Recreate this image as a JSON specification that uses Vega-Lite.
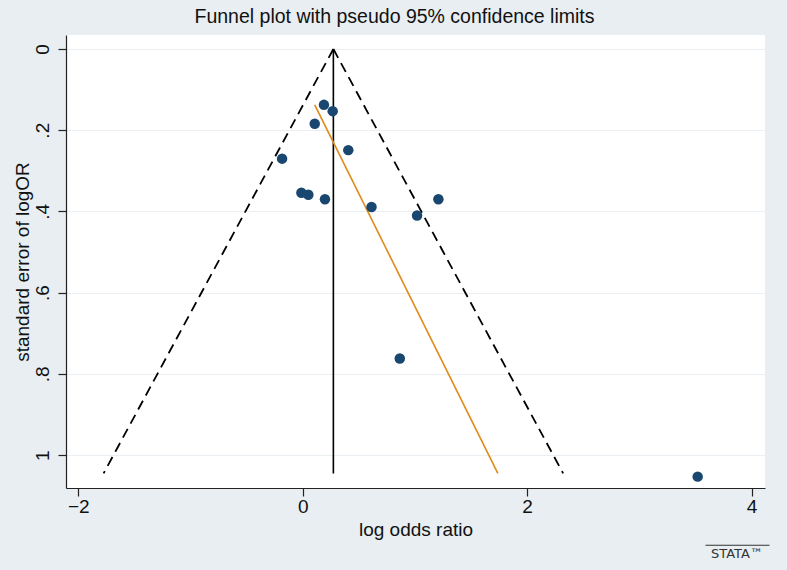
{
  "$schema": "https://vega.github.io/schema/vega-lite/v6.json",
  "width": 699,
  "height": 453,
  "autosize": "none",
  "padding": {"left": 66, "top": 35, "right": 22, "bottom": 82},
  "background": "#e8eef2",
  "title": {
    "text": "Funnel plot with pseudo 95% confidence limits",
    "font": "Liberation Sans",
    "fontSize": 19.5,
    "fontWeight": "normal",
    "color": "#111111",
    "anchor": "middle",
    "dx": -21,
    "offset": 8
  },
  "config": {
    "view": {"fill": "white", "stroke": null},
    "axis": {
      "labelFont": "Liberation Sans",
      "titleFont": "Liberation Sans",
      "labelFontSize": 19,
      "titleFontSize": 19,
      "titleFontWeight": "normal",
      "labelColor": "#111111",
      "titleColor": "#111111",
      "domainColor": "#222222",
      "tickColor": "#222222",
      "tickSize": 8,
      "domainWidth": 1.2,
      "tickWidth": 1.2
    }
  },
  "datasets": {
    "studies": [
      {"logor": 0.189, "se": 0.1375},
      {"logor": 0.267, "se": 0.153},
      {"logor": 0.107, "se": 0.184},
      {"logor": 0.406, "se": 0.249},
      {"logor": -0.184, "se": 0.270},
      {"logor": -0.012, "se": 0.354},
      {"logor": 0.050, "se": 0.359},
      {"logor": 0.198, "se": 0.370},
      {"logor": 0.613, "se": 0.389},
      {"logor": 1.019, "se": 0.410},
      {"logor": 1.209, "se": 0.370},
      {"logor": 0.865, "se": 0.762},
      {"logor": 3.52, "se": 1.053}
    ],
    "funnel": [
      {"logor": -1.775, "se": 1.045, "side": "L"},
      {"logor": 0.273, "se": 0, "side": "L"},
      {"logor": 0.273, "se": 0, "side": "R"},
      {"logor": 2.321, "se": 1.045, "side": "R"}
    ],
    "center": [
      {"logor": 0.273, "se": 0},
      {"logor": 0.273, "se": 1.045}
    ],
    "egger": [
      {"logor": 0.107, "se": 0.1375},
      {"logor": 1.739, "se": 1.045}
    ],
    "logo": [
      {"logor": 3.87, "se": 1.244, "label": "STATA™"}
    ],
    "logobar": [
      {"x1": 3.59, "x2": 4.16, "se": 1.222}
    ]
  },
  "layer": [
    {
      "data": {"name": "funnel"},
      "mark": {"type": "line", "color": "black", "strokeWidth": 1.8, "strokeDash": [10, 6]},
      "encoding": {
        "x": {
          "field": "logor", "type": "quantitative",
          "scale": {"domain": [-2.11, 4.12], "nice": false, "zero": false},
          "axis": {"values": [-2, 0, 2, 4], "format": "d", "title": "log odds ratio", "grid": false, "labelPadding": 1, "titlePadding": 4}
        },
        "y": {
          "field": "se", "type": "quantitative",
          "scale": {"domain": [1.081, -0.0345], "nice": false, "zero": false},
          "axis": {
            "values": [0, 0.2, 0.4, 0.6, 0.8, 1],
            "labelExpr": "datum.value < 0.001 ? '0' : datum.value > 0.999 ? '1' : '.' + format(datum.value * 10, '.0f')",
            "labelAngle": -90,
            "title": "standard error of logOR",
            "grid": true,
            "gridColor": "#e9eff2",
            "gridWidth": 1,
            "labelPadding": 6,
            "titlePadding": 1
          }
        },
        "detail": {"field": "side"},
        "order": {"field": "se"}
      }
    },
    {
      "data": {"name": "center"},
      "mark": {"type": "line", "color": "black", "strokeWidth": 1.6},
      "encoding": {
        "x": {"field": "logor", "type": "quantitative"},
        "y": {"field": "se", "type": "quantitative"}
      }
    },
    {
      "data": {"name": "egger"},
      "mark": {"type": "line", "color": "#e08a17", "strokeWidth": 1.6},
      "encoding": {
        "x": {"field": "logor", "type": "quantitative"},
        "y": {"field": "se", "type": "quantitative"}
      }
    },
    {
      "data": {"name": "studies"},
      "mark": {"type": "point", "filled": true, "color": "#1a476f", "opacity": 1, "size": 110},
      "encoding": {
        "x": {"field": "logor", "type": "quantitative"},
        "y": {"field": "se", "type": "quantitative"}
      }
    },
    {
      "data": {"name": "logo"},
      "mark": {"type": "text", "font": "DejaVu Sans", "fontSize": 13, "letterSpacing": 4, "color": "#333333", "clip": false},
      "encoding": {
        "x": {"field": "logor", "type": "quantitative"},
        "y": {"field": "se", "type": "quantitative"},
        "text": {"field": "label"}
      }
    },
    {
      "data": {"name": "logobar"},
      "mark": {"type": "rule", "color": "#333333", "strokeWidth": 1, "clip": false},
      "encoding": {
        "x": {"field": "x1", "type": "quantitative"},
        "x2": {"field": "x2"},
        "y": {"field": "se", "type": "quantitative"}
      }
    }
  ]
}
